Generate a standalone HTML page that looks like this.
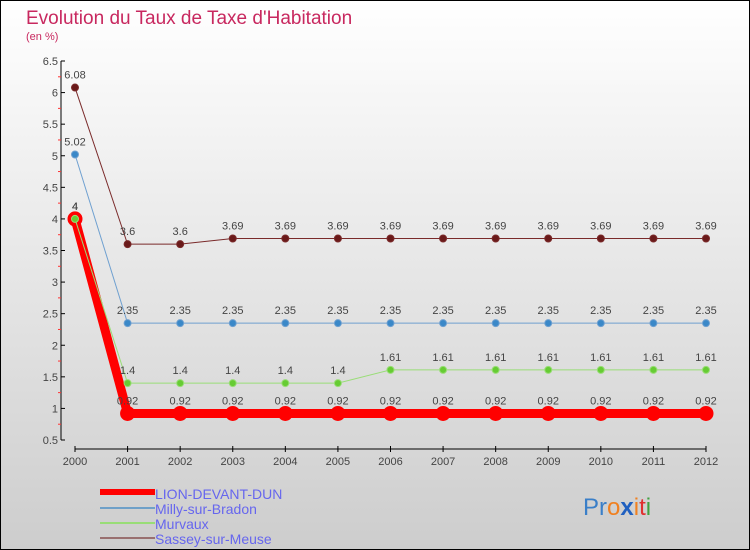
<!DOCTYPE html>
<html><head><meta charset="utf-8"><style>
body{margin:0;}
#c{width:750px;height:550px;position:relative;overflow:hidden;box-sizing:border-box;border:1px solid #000;border-width:1px 1px 1px 1px;background:linear-gradient(#ffffff,#cdcdcd);font-family:"Liberation Sans",sans-serif;}
svg text{font-family:"Liberation Sans",sans-serif;}
</style></head><body>
<div id="c">
<svg id="s" width="750" height="550" style="position:absolute;left:-1px;top:-1px">
<text x="26" y="24" font-size="19" fill="#c8285f">Evolution du Taux de Taxe d'Habitation</text>
<text x="26" y="40" font-size="11" fill="#c8285f">(en %)</text>
<g id="axes"></g><g id="series"></g>
<g>
<rect x="100" y="489" width="55" height="6" fill="#f00"/>
<text x="155" y="499" font-size="14" fill="#6666ee">LION-DEVANT-DUN</text>
<rect x="100" y="507" width="55" height="2" fill="#6fa0c8"/>
<text x="155" y="514" font-size="14" fill="#6666ee">Milly-sur-Bradon</text>
<rect x="100" y="522" width="55" height="2" fill="#99dd77"/>
<text x="155" y="529" font-size="14" fill="#6666ee">Murvaux</text>
<rect x="100" y="537" width="55" height="2" fill="#997070"/>
<text x="155" y="544" font-size="14" fill="#6666ee">Sassey-sur-Meuse</text>
</g>
<text x="583" y="515" font-size="24"><tspan fill="#3a7fc8">Pr</tspan><tspan fill="#f08020">o</tspan><tspan fill="#2060c0" font-weight="bold">x</tspan><tspan fill="#f08020">i</tspan><tspan fill="#e03030">t</tspan><tspan fill="#40a040">i</tspan></text>
</svg>
</div>
<script>
const years=[2000,2001,2002,2003,2004,2005,2006,2007,2008,2009,2010,2011,2012];
const yTicks=[0.5,1,1.5,2,2.5,3,3.5,4,4.5,5,5.5,6,6.5];
const lion=[4,0.92,0.92,0.92,0.92,0.92,0.92,0.92,0.92,0.92,0.92,0.92,0.92];
const milly=[5.02,2.35,2.35,2.35,2.35,2.35,2.35,2.35,2.35,2.35,2.35,2.35,2.35];
const murvaux=[4,1.4,1.4,1.4,1.4,1.4,1.61,1.61,1.61,1.61,1.61,1.61,1.61];
const sassey=[6.08,3.6,3.6,3.69,3.69,3.69,3.69,3.69,3.69,3.69,3.69,3.69,3.69];
const NS="http://www.w3.org/2000/svg";
const X=i=>75+i*(706-75)/(years.length-1);
const Y=v=>440-(v-0.5)*(379/6);
function mk(t,a,p){const e=document.createElementNS(NS,t);for(const k in a)e.setAttribute(k,a[k]);p.appendChild(e);return e;}
const ax=document.getElementById('axes');
let yl=mk('line',{x1:61,y1:61,x2:61,y2:440,stroke:'#000'},ax);


let xl=mk('line',{x1:75,y1:449,x2:706,y2:449,stroke:'#000'},ax);


yTicks.forEach((v,i)=>{
 mk('line',{x1:61,y1:Y(v),x2:65,y2:Y(v),stroke:'#000'},ax);
 if(i<yTicks.length-1)mk('line',{x1:58,y1:Y(v+0.25),x2:61,y2:Y(v+0.25),stroke:'#f33'},ax);
 const t=mk('text',{x:58,y:Y(v)+4,'font-size':11,fill:'#444','text-anchor':'end'},ax);
 t.textContent=String(v);
 
 
});
years.forEach((y,i)=>{
 mk('line',{x1:X(i),y1:446,x2:X(i),y2:452,stroke:'#000'},ax);
 const t=mk('text',{x:X(i),y:465,'font-size':11,fill:'#444','text-anchor':'middle'},ax);
 t.textContent=y;
 
 
});
const sg=document.getElementById('series');
function draw(data,color,dot,w,r,name){
 const g=mk('g',{},sg);
 
 
 const p=mk('polyline',{points:data.map((v,i)=>X(i)+','+Y(v)).join(' '),fill:'none',stroke:color,'stroke-width':w},g);
 
 
 data.forEach((v,i)=>{
  const c=mk('circle',{cx:X(i),cy:Y(v),r:r,fill:dot,stroke:color,'stroke-width':1},g);
  
  
  const t=mk('text',{x:X(i),y:Y(v)-9,'font-size':11,fill:'#444','text-anchor':'middle'},g);
  t.textContent=String(v).replace('.','.');
  
  
 });
}
draw(sassey,'#7a2a2a','#6a1a1a',1,3.5,'sassey');
draw(milly,'#6fa0d0','#3a88c8',1,3.5,'milly');
draw(lion,'#f00','#f00',9,7,'lion');
draw(murvaux,'#99dd77','#66cc33',1,3.5,'murvaux');
</script>
</body></html>
